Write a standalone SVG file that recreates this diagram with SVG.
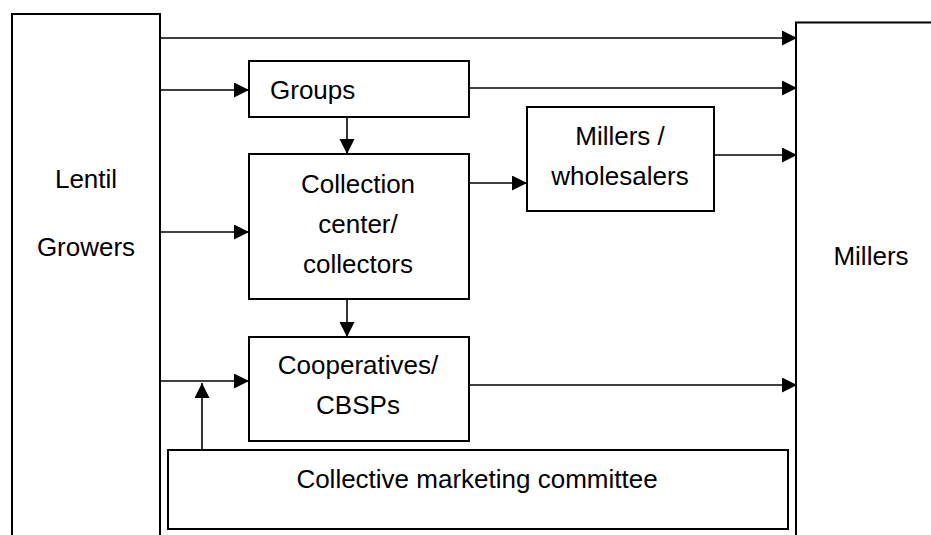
<svg xmlns="http://www.w3.org/2000/svg" width="931" height="535" viewBox="0 0 931 535">
  <style>
    .box { fill: #ffffff; stroke: #000000; stroke-width: 2; }
    .open { fill: none; stroke: #000000; stroke-width: 2; }
    .lbl { font-family: "Liberation Sans", Arial, sans-serif; font-size: 26px; fill: #000000; text-anchor: middle; }
    .conn { fill: none; stroke: #000000; stroke-width: 1.6; marker-end: url(#arrow); }
  </style>
  <defs>
    <marker id="arrow" markerUnits="userSpaceOnUse" markerWidth="16" markerHeight="16" refX="15" refY="7.5" orient="auto">
      <path d="M0,0 L15,7.5 L0,15 Z" fill="#000000"/>
    </marker>
  </defs>
  <rect width="931" height="535" fill="#ffffff"/>

  <g id="lentil-growers">
    <path class="open" d="M12,536 V14 H160 V536"/>
    <text class="lbl" x="86" y="188">Lentil</text>
    <text class="lbl" x="86" y="256">Growers</text>
  </g>

  <g id="millers">
    <path class="open" d="M796,536 V22.5 H935"/>
    <text class="lbl" x="871" y="265">Millers</text>
  </g>

  <g id="groups">
    <rect class="box" x="249" y="61" width="220" height="56"/>
    <text class="lbl" x="270" y="99" style="text-anchor:start">Groups</text>
  </g>

  <g id="collection-center">
    <rect class="box" x="249" y="154" width="220" height="145"/>
    <text class="lbl" x="358" y="193">Collection</text>
    <text class="lbl" x="358" y="233">center/</text>
    <text class="lbl" x="358" y="273">collectors</text>
  </g>

  <g id="millers-wholesalers">
    <rect class="box" x="527" y="107" width="187" height="104"/>
    <text class="lbl" x="620" y="145">Millers /</text>
    <text class="lbl" x="620" y="185">wholesalers</text>
  </g>

  <g id="cooperatives">
    <rect class="box" x="249" y="337" width="220" height="104"/>
    <text class="lbl" x="358" y="374">Cooperatives/</text>
    <text class="lbl" x="358" y="414">CBSPs</text>
  </g>

  <g id="committee">
    <rect class="box" x="168" y="450" width="620" height="79"/>
    <text class="lbl" x="477" y="488">Collective marketing committee</text>
  </g>

  <g id="connectors">
    <line class="conn" x1="160" y1="38" x2="797" y2="38"/>
    <line class="conn" x1="160" y1="90" x2="249" y2="90"/>
    <line class="conn" x1="469" y1="88" x2="797" y2="88"/>
    <line class="conn" x1="347" y1="117" x2="347" y2="154"/>
    <line class="conn" x1="160" y1="232" x2="249" y2="232"/>
    <line class="conn" x1="469" y1="183" x2="527" y2="183"/>
    <line class="conn" x1="714" y1="155" x2="797" y2="155"/>
    <line class="conn" x1="347" y1="299" x2="347" y2="337"/>
    <line class="conn" x1="160" y1="381" x2="249" y2="381"/>
    <line class="conn" x1="469" y1="385" x2="797" y2="385"/>
    <line class="conn" x1="202" y1="450" x2="202" y2="383"/>
  </g>
</svg>
